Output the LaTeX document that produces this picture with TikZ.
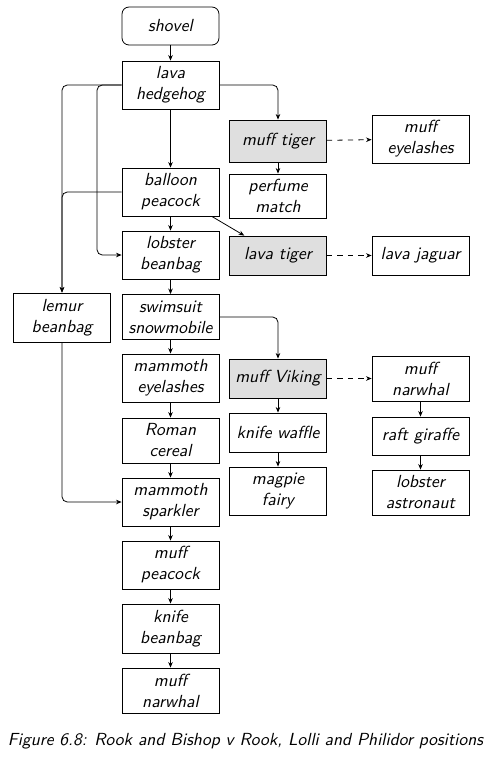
\documentclass[tikz,border=0pt]{standalone}
\usepackage{fontspec}
\usetikzlibrary{arrows.meta,calc}
\begin{document}
\begin{tikzpicture}[x=0.5714pt,y=-0.5714pt,
  every node/.style={font=\sffamily\itshape},
  box/.style={draw, line width=0.45pt, minimum width=55.4pt, inner sep=1pt, align=center},
  hl/.style={box, fill=gray!25},
  ht/.style={minimum height=#1*0.5714pt},
  arr/.style={line width=0.45pt, -{Stealth[length=3.2pt,width=2.6pt]}},
  darr/.style={arr, dashed},
  rc/.style={rounded corners=3pt}]
\useasboundingbox (0,0) rectangle (502,762);
% main column
\node[box, rounded corners=4pt, ht=38] (shovel) at (170.5,26) {shovel};
\node[box, ht=48] (lavah) at (170.5,85) {lava\\hedgehog};
\node[box, ht=48] (balloon) at (170.5,192) {balloon\\peacock};
\node[box, ht=48] (lobster) at (170.5,255) {lobster\\beanbag};
\node[box, ht=45] (swim) at (170.5,317) {swimsuit\\snowmobile};
\node[box, ht=48] (mameye) at (170.5,378) {mammoth\\eyelashes};
\node[box, ht=45] (roman) at (170.5,440.5) {Roman\\cereal};
\node[box, ht=48] (mamspark) at (170.5,502) {mammoth\\sparkler};
\node[box, ht=48] (muffpea) at (170.5,565) {muff\\peacock};
\node[box, ht=49] (knifebean) at (170.5,628.5) {knife\\beanbag};
\node[box, ht=45] (muffnar) at (170.5,690.5) {muff\\narwhal};
% left
\node[box, ht=49] (lemur) at (62,317.5) {lemur\\beanbag};
% right column 1
\node[hl, ht=42] (mufftiger) at (278,141) {muff tiger};
\node[box, ht=44] (perfume) at (278,196) {perfume\\match};
\node[hl, ht=39] (lavatiger) at (278,255.5) {lava tiger};
\node[hl, ht=39] (muffviking) at (278,378.5) {muff Viking};
\node[box, ht=39] (knifewaffle) at (278,432.5) {knife waffle};
\node[box, ht=48] (magpie) at (278,491) {magpie\\fairy};
% right column 2
\node[box, ht=48] (muffeye) at (420.5,139) {muff\\eyelashes};
\node[box, ht=39] (lavajag) at (420.5,255.5) {lava jaguar};
\node[box, ht=45] (muffnar2) at (420.5,378.5) {muff\\narwhal};
\node[box, ht=38] (raft) at (420.5,436) {raft giraffe};
\node[box, ht=45] (lobastro) at (420.5,492.5) {lobster\\astronaut};
% caption
\node (cap) at (245.5,741) {Figure 6.8: Rook and Bishop v Rook, Lolli and Philidor positions};
\coordinate (j1) at (97,255);
% connectors
\draw[arr] (shovel) -- (lavah);
\draw[arr] (lavah) -- (balloon);
\draw[arr, rc] (lavah.east) -| (mufftiger.north);
\draw[arr, rc] (lavah.west) -| (lemur.north);
\draw[arr, rc] (lavah.west) -| (j1) -- (lobster.west);
\draw[arr, rc] (balloon.west) -| (lemur.north);
\draw[arr] (balloon) -- (lobster);
\draw[arr] (balloon) -- (lavatiger);
\draw[arr] (lobster) -- (swim);
\draw[arr, rc] (swim.east) -| (muffviking.north);
\draw[arr] (swim) -- (mameye);
\draw[arr] (mameye) -- (roman);
\draw[arr] (roman) -- (mamspark);
\draw[arr] (mamspark) -- (muffpea);
\draw[arr] (muffpea) -- (knifebean);
\draw[arr] (knifebean) -- (muffnar);
\draw[arr, rc] (lemur.south) |- (mamspark.west);
\draw[arr] (mufftiger) -- (perfume);
\draw[darr] (mufftiger) -- (muffeye);
\draw[darr] (lavatiger) -- (lavajag);
\draw[arr] (muffviking) -- (knifewaffle);
\draw[arr] (knifewaffle) -- (magpie);
\draw[darr] (muffviking) -- (muffnar2);
\draw[arr] (muffnar2) -- (raft);
\draw[arr] (raft) -- (lobastro);
\end{tikzpicture}
\end{document}
